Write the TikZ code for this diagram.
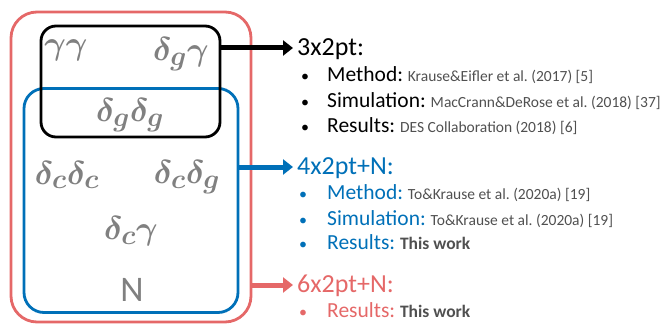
\documentclass[tikz,border=0pt]{standalone}
\usepackage{graphicx}
\usepackage{fontspec}
\setmainfont{Carlito}
\usetikzlibrary{arrows.meta,positioning}
\frenchspacing

\definecolor{setred}{RGB}{229,104,104}
\definecolor{setblue}{RGB}{0,112,184}
\definecolor{reftext}{RGB}{80,80,80}
\definecolor{termgray}{RGB}{128,128,128}

\tikzset{
  probeset/.style={draw=#1, line width=2.8pt, inner sep=0pt},
  term/.style={text=termgray, inner sep=0pt, font=\fontsize{24.88}{28}\selectfont\boldmath},
  head/.style={anchor=base west, inner sep=0pt, font=\fontsize{26}{30}\selectfont},
  item/.style={anchor=base west, inner sep=0pt, font=\fontsize{21.5}{26}\selectfont},
  dot/.style={anchor=base, inner sep=0pt, font=\fontsize{16}{20}\selectfont},
  link/.style={line width=5pt, shorten >=4pt, -{Triangle[length=10pt,width=15pt]}},
}
\newcommand{\pair}[1]{\scalebox{1.33}{$#1$}}
\newcommand{\refinfo}[1]{{\color{reftext}\fontsize{15.5}{18}\selectfont #1}}
\newcommand{\thiswork}{{\color{reftext}\fontsize{17.5}{20}\selectfont\bfseries This work}}

\begin{document}
\begin{tikzpicture}[x=1pt,y=-1pt]
  \useasboundingbox (0,0) rectangle (660,326);

  % nested sets of probes
  \node[probeset=setred, rounded corners=26pt, minimum width=240pt, minimum height=310pt] (redset) at (131,167) {};
  \node[probeset=setblue, rounded corners=20pt, minimum width=214pt, minimum height=224pt] (blueset) at (131,200.5) {};
  \node[probeset=black, rounded corners=15pt, minimum width=179pt, minimum height=111pt] (blackset) at (130.5,81.5) {};

  % two-point functions
  \node[term] (gg) at (66,50) {\pair{\gamma\gamma}};
  \node[term] (dgg) at (181,54) {\pair{\delta_g\gamma}};
  \node[term] (dgdg) at (130,115) {\pair{\delta_g\delta_g}};
  \node[term] (dcdc) at (67,175) {\pair{\delta_c\delta_c}};
  \node[term] (dcdg) at (187,177) {\pair{\delta_c\delta_g}};
  \node[term] (dcg) at (131,231) {\pair{\delta_c\gamma}};
  \node[term, font=\fontsize{36}{40}\selectfont] (nc) at (132,290) {N};

  % 3x2pt
  \node[head] (head3) at (297,56) {3x2pt:};
  \node[dot] (b3a) at (305,82) {\textbullet};
  \node[item] (meth3) at (327,82) {Method: \refinfo{Krause\&Eifler et al. (2017) [5]}};
  \node[dot] (b3b) at (305,107) {\textbullet};
  \node[item] (sim3) at (327,107) {Simulation: \refinfo{MacCrann\&DeRose et al. (2018) [37]}};
  \node[dot] (b3c) at (305,132) {\textbullet};
  \node[item] (res3) at (327,132) {Results: \refinfo{DES Collaboration (2018) [6]}};

  % 4x2pt+N
  \node[head, text=setblue] (head4) at (297,174) {4x2pt+N:};
  \node[dot, text=setblue] (b4a) at (303,199) {\textbullet};
  \node[item, text=setblue] (meth4) at (327,199) {Method: \refinfo{To\&Krause et al. (2020a) [19]}};
  \node[dot, text=setblue] (b4b) at (303,225) {\textbullet};
  \node[item, text=setblue] (sim4) at (327,225) {Simulation: \refinfo{To\&Krause et al. (2020a) [19]}};
  \node[dot, text=setblue] (b4c) at (303,249) {\textbullet};
  \node[item, text=setblue] (res4) at (327,249) {Results: \thiswork};

  % 6x2pt+N
  \node[head, text=setred] (head6) at (297,292) {6x2pt+N:};
  \node[dot, text=setred] (b6a) at (303,317) {\textbullet};
  \node[item, text=setred] (res6) at (327,317) {Results: \thiswork};

  % arrows to the analyses
  \draw[link, black] (blackset.east |- 0,48) -- (head3.west |- 0,48);
  \draw[link, setblue] (blueset.east |- 0,167) -- (head4.west |- 0,167);
  \draw[link, setred] (redset.east |- 0,285) -- (head6.west |- 0,285);
\end{tikzpicture}
\end{document}
